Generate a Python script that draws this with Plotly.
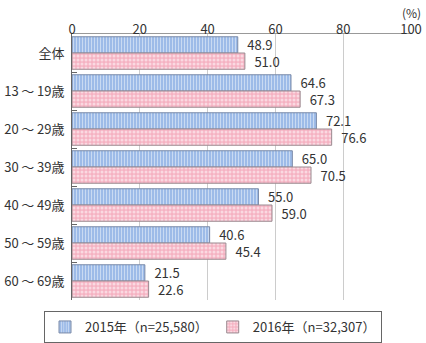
import plotly.graph_objects as go

categories = ["全体", "13\u2009～\u200919歳", "20\u2009～\u200929歳", "30\u2009～\u200939歳",
              "40\u2009～\u200949歳", "50\u2009～\u200959歳", "60\u2009～\u200969歳"]
values_2015 = [48.9, 64.6, 72.1, 65.0, 55.0, 40.6, 21.5]
values_2016 = [51.0, 67.3, 76.6, 70.5, 59.0, 45.4, 22.6]
name_2015 = "2015年（n=25,580）"
name_2016 = "2016年（n=32,307）"
x_ticks = [0, 20, 40, 60, 80, 100]

FONT = "Noto Sans CJK JP"
TXT = "#333333"

fig = go.Figure()
fig.add_trace(go.Bar(
    y=categories, x=values_2015, orientation="h", name=name_2015,
    marker=dict(color="#a9c6ee", line=dict(color="#7a8aa8", width=1),
                pattern=dict(shape="|", fgcolor="#ffffff", bgcolor="#9dbbe8", size=3, solidity=0.3)),
    text=[f"\u2002{v:.1f}" for v in values_2015], textposition="outside", constraintext="none",
    textfont=dict(size=13, color=TXT, family=FONT), cliponaxis=False,
))
fig.add_trace(go.Bar(
    y=categories, x=values_2016, orientation="h", name=name_2016,
    marker=dict(color="#f6b8c6", line=dict(color="#9a8a90", width=1),
                pattern=dict(shape=".", fgcolor="#ffffff", bgcolor="#f5b2c2", size=4, solidity=0.45)),
    text=[f"\u2002{v:.1f}" for v in values_2016], textposition="outside", constraintext="none",
    textfont=dict(size=13, color=TXT, family=FONT), cliponaxis=False,
))

fig.update_layout(
    width=426, height=343,
    margin=dict(l=72, r=15, t=34, b=43, autoexpand=False),
    paper_bgcolor="white", plot_bgcolor="white",
    font=dict(family=FONT, size=12, color=TXT),
    barmode="group", bargap=0.145, bargroupgap=0,
    showlegend=True,
    legend=dict(orientation="h", xref="paper", yref="paper",
                x=(213 - 72) / 339, xanchor="center", y=-11 / 266, yanchor="top",
                bordercolor="#666666", borderwidth=1, bgcolor="white",
                font=dict(size=13, color=TXT, family=FONT),
                itemwidth=30, tracegroupgap=0),
    xaxis=dict(side="top", range=[0, 100], tickvals=x_ticks, ticktext=[str(t) for t in x_ticks],
               showgrid=True, gridcolor="#cccccc", gridwidth=1,
               showline=True, linecolor="#999999", linewidth=1, automargin=False,
               ticks="", tickfont=dict(size=13, color=TXT), zeroline=False, fixedrange=True,
               ticklabelposition="outside", ticklabelstandoff=-6),
    yaxis=dict(autorange="reversed", categoryorder="array", categoryarray=categories,
               showline=True, linecolor="#666666", linewidth=1, automargin=False,
               ticks="inside", tickson="boundaries", ticklen=5, tickcolor="#666666",
               tickfont=dict(size=13, color=TXT), showgrid=False, ticklabelstandoff=4),
    annotations=[dict(text="(%)", xref="paper", yref="paper", x=1.0, y=1.0,
                      xanchor="center", yanchor="bottom", yshift=11, xshift=0,
                      showarrow=False, font=dict(size=12, color=TXT))],
)

fig.write_html("out.html")
